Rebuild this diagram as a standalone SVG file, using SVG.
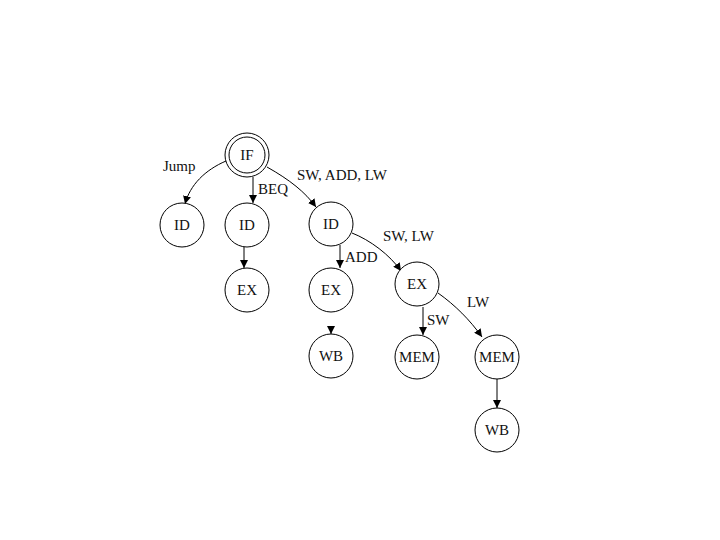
<svg xmlns="http://www.w3.org/2000/svg" width="720" height="540" viewBox="0 0 720 540">
<defs>
<marker id="arr" markerUnits="userSpaceOnUse" markerWidth="8" markerHeight="8" refX="8" refY="4" orient="auto">
<path d="M0,0 L8,4 L0,8 z" fill="#000"/>
</marker>
<style>
.n{fill:#fff;stroke:#000;stroke-width:1}
.t{font-family:"Liberation Serif","Times New Roman",serif;font-size:15px;fill:#111;text-anchor:middle}
.l{font-family:"Liberation Serif","Times New Roman",serif;font-size:15px;fill:#111}
.e{fill:none;stroke:#000;stroke-width:1;marker-end:url(#arr)}
</style>
</defs>
<rect width="720" height="540" fill="#fff"/>
<g id="connectors">
<path class="e" d="M226,161 C205,170 190,185 185,204"/>
<path class="e" d="M253,177 L253,203"/>
<path class="e" d="M267,167 C290,180 305,192 316,207"/>
<path class="e" d="M244,247 L244,268"/>
<path class="e" d="M340,245 L340,268"/>
<path class="e" d="M352,233 C370,240 390,255 401,271"/>
<path class="e" d="M331,327 L331,334"/>
<path class="e" d="M423,307 L423,335"/>
<path class="e" d="M438,293 C455,305 470,320 482,337"/>
<path class="e" d="M497,379 L497,408"/>
<text class="l" x="163" y="171">Jump</text>
<text class="l" x="258" y="194">BEQ</text>
<text class="l" x="297" y="180">SW, ADD, LW</text>
<text class="l" x="383" y="241">SW, LW</text>
<text class="l" x="345" y="262">ADD</text>
<text class="l" x="427" y="325">SW</text>
<text class="l" x="467" y="307">LW</text>
</g>
<g id="IF"><circle class="n" cx="247" cy="155" r="22"/><circle class="n" cx="247" cy="155" r="18"/><text class="t" x="247" y="160">IF</text></g>
<g id="ID1"><circle class="n" cx="182" cy="225" r="22"/><text class="t" x="182" y="230">ID</text></g>
<g id="ID2"><circle class="n" cx="247" cy="225" r="22"/><text class="t" x="247" y="230">ID</text></g>
<g id="ID3"><circle class="n" cx="331" cy="224" r="22"/><text class="t" x="331" y="229">ID</text></g>
<g id="EX1"><circle class="n" cx="247" cy="290" r="22"/><text class="t" x="247" y="295">EX</text></g>
<g id="EX2"><circle class="n" cx="331" cy="290" r="22"/><text class="t" x="331" y="295">EX</text></g>
<g id="EX3"><circle class="n" cx="417" cy="284" r="22"/><text class="t" x="417" y="289">EX</text></g>
<g id="WB1"><circle class="n" cx="331" cy="356" r="22"/><text class="t" x="331" y="361">WB</text></g>
<g id="MEM1"><circle class="n" cx="417" cy="357" r="22"/><text class="t" x="417" y="362">MEM</text></g>
<g id="MEM2"><circle class="n" cx="497" cy="357" r="22"/><text class="t" x="497" y="362">MEM</text></g>
<g id="WB2"><circle class="n" cx="497" cy="430" r="22"/><text class="t" x="497" y="435">WB</text></g>
</svg>
